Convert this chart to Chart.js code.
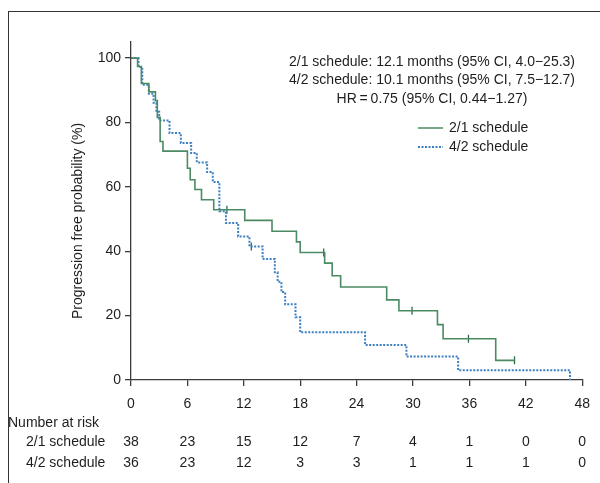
<!DOCTYPE html>
<html>
<head>
<meta charset="utf-8">
<script src="https://cdn.jsdelivr.net/npm/chart.js@4/dist/chart.umd.min.js"></script>
<style>
  html, body { margin: 0; padding: 0; background: #fff; }
  #wrap { position: relative; width: 600px; height: 483px; }
  #frame { position: absolute; left: 8px; top: 11px; right: -2px; bottom: -2px;
           border-left: 1.5px solid #333; border-top: 1.5px solid #333; }
  canvas { position: absolute; left: 0; top: 0; }
</style>
</head>
<body>
<div id="wrap">
  <div id="frame"></div>
  <canvas id="kmChart" width="600" height="483"></canvas>
</div>
<script>
// months / survival (%)
var greenTimes = [0, 0.7, 1.1, 1.9, 2.6, 2.8, 3.1, 3.4, 6.0, 6.3, 6.8, 7.5, 8.8, 12.1, 15.0, 17.6, 18.0, 20.6, 21.4, 22.3, 27.2, 28.5, 32.6, 33.2, 38.8, 40.8];
var greenSurv = [100, 97.4, 92.1, 89.5, 86.8, 81.6, 74.1, 71.1, 65.8, 62.2, 59.2, 56.0, 52.9, 49.6, 46.2, 42.9, 39.6, 36.3, 32.4, 28.9, 24.9, 21.5, 17.2, 12.8, 6.1, 6.1];

var blueTimes = [0, 0.8, 1.2, 1.9, 2.4, 2.7, 3.0, 4.1, 5.3, 6.4, 7.0, 8.1, 8.7, 9.4, 10.1, 11.4, 12.6, 14.0, 15.3, 15.6, 16.0, 16.4, 17.5, 18.0, 24.9, 29.3, 34.8, 46.7];
var blueSurv = [100, 97.2, 91.7, 88.9, 86.1, 83.3, 80.6, 76.7, 73.6, 70.5, 67.6, 64.6, 61.5, 52.4, 48.8, 44.6, 41.5, 37.6, 33.5, 30.5, 27.3, 23.5, 19.5, 14.8, 10.9, 7.3, 3.0, 0];

// censoring ticks
var greenCensorTimes = [10.2, 20.5, 29.9, 35.9, 40.8];
var greenCensorSurv = [52.9, 39.6, 21.5, 12.8, 6.1];
var blueCensorTimes = [12.8];
var blueCensorSurv = [41.5];

var xTicks = [0, 6, 12, 18, 24, 30, 36, 42, 48];
var riskGreen = [38, 23, 15, 12, 7, 4, 1, 0, 0];
var riskBlue = [36, 23, 12, 3, 3, 1, 1, 1, 0];

var seriesNames = ["2/1 schedule", "4/2 schedule"];
var statLines = [
  "2/1 schedule: 12.1 months (95% CI, 4.0\u221225.3)",
  "4/2 schedule: 10.1 months (95% CI, 7.5\u221212.7)",
  "HR\u2009=\u20090.75 (95% CI, 0.44\u22121.27)"
];

var GREEN = "#4b8a62";
var BLUE = "#3c7fc3";
var FONT = "'Liberation Sans', Arial, sans-serif";
var FSIZE = 14;

function toPoints(xs, ys) {
  return xs.map(function (x, i) { return { x: x, y: ys[i] }; });
}

var extras = {
  id: "extras",
  afterDraw: function (chart) {
    var ctx = chart.ctx;
    var xs = chart.scales.x;
    var area = chart.chartArea;
    ctx.save();
    ctx.fillStyle = "#1e1e1e";
    ctx.font = FSIZE + "px " + FONT;

    // y axis title
    ctx.save();
    ctx.translate(78, (area.top + area.bottom) / 2 + 10);
    ctx.rotate(-Math.PI / 2);
    ctx.textAlign = "center";
    ctx.textBaseline = "middle";
    ctx.fillText("Progression free probability (%)", 0, 0);
    ctx.restore();

    // median / HR text
    ctx.textAlign = "center";
    ctx.textBaseline = "middle";
    statLines.forEach(function (t, i) {
      ctx.fillText(t, 432, 62 + i * 18.5);
    });

    // legend
    var lx = 418, ly = 128;
    ctx.lineWidth = 1.5;
    ctx.strokeStyle = GREEN;
    ctx.beginPath(); ctx.moveTo(lx, ly); ctx.lineTo(lx + 25, ly); ctx.stroke();
    ctx.strokeStyle = BLUE;
    ctx.lineWidth = 2;
    ctx.setLineDash([2, 1.5]);
    ctx.beginPath(); ctx.moveTo(lx, ly + 19); ctx.lineTo(lx + 25, ly + 19); ctx.stroke();
    ctx.setLineDash([]);
    ctx.textAlign = "left";
    ctx.fillText(seriesNames[0], lx + 31, ly);
    ctx.fillText(seriesNames[1], lx + 31, ly + 19);

    // number at risk table
    ctx.textAlign = "left";
    ctx.fillText("Number at risk", 8, 423);
    ctx.fillText(seriesNames[0], 26, 442);
    ctx.fillText(seriesNames[1], 26, 463);
    ctx.textAlign = "center";
    xTicks.forEach(function (t, i) {
      var px = xs.getPixelForValue(t);
      ctx.fillText(String(riskGreen[i]), px, 442);
      ctx.fillText(String(riskBlue[i]), px, 463);
    });
    ctx.restore();
  }
};

var chartKM = new Chart(document.getElementById("kmChart").getContext("2d"), {
  type: "line",
  data: {
    datasets: [
      {
        label: seriesNames[0],
        data: toPoints(greenTimes, greenSurv),
        borderColor: GREEN,
        borderWidth: 1.6,
        stepped: "before",
        pointRadius: 0,
        fill: false
      },
      {
        label: seriesNames[1],
        data: toPoints(blueTimes, blueSurv),
        borderColor: BLUE,
        borderWidth: 2,
        borderDash: [2, 1.5],
        stepped: "before",
        pointRadius: 0,
        fill: false
      },
      {
        type: "scatter",
        label: "censor1",
        data: toPoints(greenCensorTimes, greenCensorSurv),
        pointStyle: "line",
        rotation: 90,
        pointRadius: 4,
        borderColor: "#2f6b47",
        borderWidth: 1.3,
        showLine: false
      },
      {
        type: "scatter",
        label: "censor2",
        data: toPoints(blueCensorTimes, blueCensorSurv),
        pointStyle: "line",
        rotation: 90,
        pointRadius: 4,
        borderColor: "#2f6b47",
        borderWidth: 1.3,
        showLine: false
      }
    ]
  },
  options: {
    responsive: false,
    animation: false,
    layout: { padding: { left: 0, top: 42, right: 17, bottom: 0 } },
    plugins: {
      legend: { display: false },
      tooltip: { enabled: false }
    },
    scales: {
      x: {
        type: "linear",
        min: 0,
        max: 48,
        afterBuildTicks: function (s) {
          s.ticks = xTicks.map(function (v) { return { value: v }; });
        },
        afterFit: function (s) { s.height = 103; },
        grid: { drawOnChartArea: false, drawTicks: true, tickLength: 6, color: "#3c3c3c", lineWidth: 1.3 },
        border: { display: true, color: "#3c3c3c", width: 1.3 },
        ticks: { color: "#1e1e1e", font: { family: FONT, size: FSIZE }, padding: 10, maxRotation: 0 }
      },
      y: {
        type: "linear",
        min: 0,
        max: 105,
        afterBuildTicks: function (s) {
          s.ticks = s.ticks.filter(function (t) { return t.value % 20 === 0; });
        },
        afterFit: function (s) { s.width = 131; },
        grid: { drawOnChartArea: false, drawTicks: true, tickLength: 6, color: "#3c3c3c", lineWidth: 1.3 },
        border: { display: true, color: "#3c3c3c", width: 1.3 },
        ticks: { stepSize: 20, color: "#1e1e1e", font: { family: FONT, size: FSIZE }, padding: 4 }
      }
    }
  },
  plugins: [extras]
});
</script>
</body>
</html>
